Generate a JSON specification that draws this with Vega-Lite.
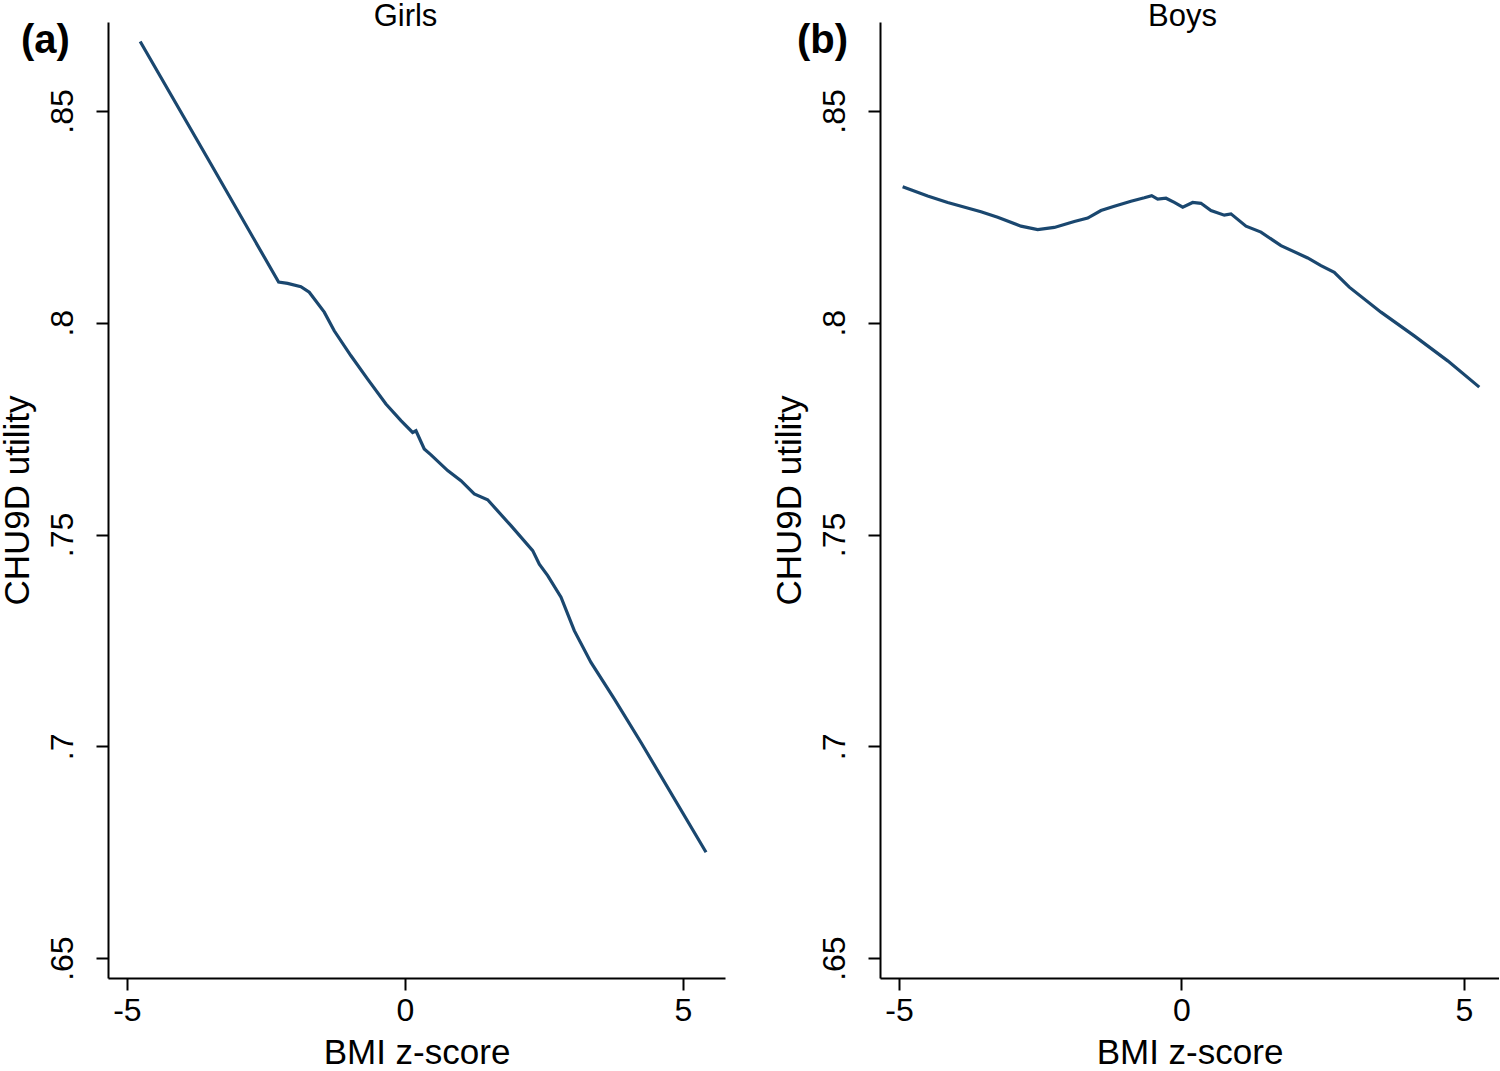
{
  "$schema": "https://vega.github.io/schema/vega-lite/v6.json",
  "background": "white",
  "padding": {"left": 0, "top": 0, "right": 0, "bottom": 0},
  "datasets": {
    "girls": [
      {"z": -4.761, "u": 0.8664},
      {"z": -3.5, "u": 0.8377},
      {"z": -2.272, "u": 0.8096},
      {"z": -2.11, "u": 0.8093},
      {"z": -1.871, "u": 0.8085},
      {"z": -1.721, "u": 0.8072},
      {"z": -1.451, "u": 0.8025},
      {"z": -1.272, "u": 0.7981},
      {"z": -0.971, "u": 0.7922},
      {"z": -0.671, "u": 0.7867},
      {"z": -0.342, "u": 0.7808},
      {"z": -0.072, "u": 0.7769},
      {"z": 0.138, "u": 0.7741},
      {"z": 0.198, "u": 0.7745},
      {"z": 0.347, "u": 0.7702},
      {"z": 0.468, "u": 0.7688},
      {"z": 0.768, "u": 0.7651},
      {"z": 1.007, "u": 0.7627},
      {"z": 1.246, "u": 0.7596},
      {"z": 1.487, "u": 0.7582},
      {"z": 1.906, "u": 0.7521},
      {"z": 2.297, "u": 0.7462},
      {"z": 2.416, "u": 0.743},
      {"z": 2.567, "u": 0.7403},
      {"z": 2.806, "u": 0.7352},
      {"z": 3.045, "u": 0.7273},
      {"z": 3.345, "u": 0.7198},
      {"z": 3.764, "u": 0.7112},
      {"z": 4.245, "u": 0.7009},
      {"z": 5.414, "u": 0.675}
    ],
    "boys": [
      {"z": -4.935, "u": 0.8321},
      {"z": -4.492, "u": 0.8299},
      {"z": -4.138, "u": 0.8284},
      {"z": -3.549, "u": 0.8262},
      {"z": -3.253, "u": 0.8249},
      {"z": -2.841, "u": 0.8228},
      {"z": -2.545, "u": 0.822},
      {"z": -2.251, "u": 0.8225},
      {"z": -1.897, "u": 0.8239},
      {"z": -1.66, "u": 0.8247},
      {"z": -1.425, "u": 0.8265},
      {"z": -1.189, "u": 0.8275},
      {"z": -0.894, "u": 0.8287},
      {"z": -0.658, "u": 0.8295},
      {"z": -0.527, "u": 0.83},
      {"z": -0.421, "u": 0.8292},
      {"z": -0.274, "u": 0.8294},
      {"z": -0.127, "u": 0.8284},
      {"z": 0.022, "u": 0.8273},
      {"z": 0.198, "u": 0.8284},
      {"z": 0.345, "u": 0.8282},
      {"z": 0.522, "u": 0.8265},
      {"z": 0.758, "u": 0.8254},
      {"z": 0.876, "u": 0.8257},
      {"z": 1.142, "u": 0.8228},
      {"z": 1.407, "u": 0.8214},
      {"z": 1.761, "u": 0.8182},
      {"z": 2.234, "u": 0.8153},
      {"z": 2.469, "u": 0.8135},
      {"z": 2.704, "u": 0.8119},
      {"z": 2.97, "u": 0.8084},
      {"z": 3.531, "u": 0.8025},
      {"z": 4.12, "u": 0.7969},
      {"z": 4.712, "u": 0.791},
      {"z": 5.271, "u": 0.7848}
    ]
  },
  "config": {
    "view": {"stroke": null},
    "font": "Liberation Sans",
    "axis": {
      "grid": false,
      "domainColor": "black",
      "domainWidth": 2,
      "tickColor": "black",
      "tickWidth": 2,
      "tickSize": 12,
      "labelFont": "Liberation Sans",
      "labelFontSize": 32,
      "labelColor": "black",
      "titleFont": "Liberation Sans",
      "titleFontSize": 35,
      "titleFontWeight": "normal",
      "titleColor": "black"
    },
    "title": {
      "font": "Liberation Sans",
      "fontSize": 40,
      "fontWeight": "bold",
      "color": "black",
      "anchor": "start",
      "frame": "group",
      "baseline": "alphabetic",
      "offset": 0
    }
  },
  "bounds": "flush",
  "spacing": 155,
  "hconcat": [
    {
      "width": 617,
      "height": 956,
      "title": {"text": "(a)", "dx": -87, "dy": 65},
      "data": {"name": "girls"},
      "layer": [
        {
          "mark": {"type": "line", "color": "#1a476f", "strokeWidth": 3.2},
          "encoding": {
            "x": {"field": "z", "type": "quantitative",
              "scale": {"domain": [-5.34, 5.755], "nice": false, "zero": false},
              "axis": {"values": [-5, 0, 5], "title": "BMI z-score", "labelExpr": "replace(datum.label, '−', '-')", "labelBaseline": "alphabetic", "labelPadding": 30, "titleBaseline": "alphabetic", "titleY": 85}},
            "y": {"field": "u", "type": "quantitative",
              "scale": {"domain": [0.6453, 0.871], "nice": false, "zero": false},
              "axis": {"values": [0.65, 0.7, 0.75, 0.8, 0.85], "title": "CHU9D utility",
                "labelExpr": "replace(format(datum.value, '.2~f'), '0.', '.')",
                "labelAngle": 270, "labelAlign": "center", "labelBaseline": "alphabetic", "labelPadding": 24,
                "titleAngle": 270, "titleBaseline": "alphabetic", "titleX": -80}}
          }
        },
        {
          "mark": {"type": "line", "strokeOpacity": 0},
          "encoding": {
            "x": {"field": "z", "type": "quantitative",
              "axis": {"orient": "top", "title": "Girls", "labels": false, "ticks": false, "domain": false,
                "titleFontSize": 31, "titleBaseline": "alphabetic", "titleY": 3, "titleX": 297}},
            "y": {"field": "u", "type": "quantitative"}
          }
        }
      ],
      "resolve": {"axis": {"x": "independent"}}
    },
    {
      "width": 619,
      "height": 956,
      "title": {"text": "(b)", "dx": -83, "dy": 65},
      "data": {"name": "boys"},
      "layer": [
        {
          "mark": {"type": "line", "color": "#1a476f", "strokeWidth": 3.2},
          "encoding": {
            "x": {"field": "z", "type": "quantitative",
              "scale": {"domain": [-5.336, 5.62], "nice": false, "zero": false},
              "axis": {"values": [-5, 0, 5], "title": "BMI z-score", "labelExpr": "replace(datum.label, '−', '-')", "labelBaseline": "alphabetic", "labelPadding": 30, "titleBaseline": "alphabetic", "titleY": 85}},
            "y": {"field": "u", "type": "quantitative",
              "scale": {"domain": [0.6453, 0.871], "nice": false, "zero": false},
              "axis": {"values": [0.65, 0.7, 0.75, 0.8, 0.85], "title": "CHU9D utility",
                "labelExpr": "replace(format(datum.value, '.2~f'), '0.', '.')",
                "labelAngle": 270, "labelAlign": "center", "labelBaseline": "alphabetic", "labelPadding": 24,
                "titleAngle": 270, "titleBaseline": "alphabetic", "titleX": -80}}
          }
        },
        {
          "mark": {"type": "line", "strokeOpacity": 0},
          "encoding": {
            "x": {"field": "z", "type": "quantitative",
              "axis": {"orient": "top", "title": "Boys", "labels": false, "ticks": false, "domain": false,
                "titleFontSize": 31, "titleBaseline": "alphabetic", "titleY": 3, "titleX": 302}},
            "y": {"field": "u", "type": "quantitative"}
          }
        }
      ],
      "resolve": {"axis": {"x": "independent"}}
    }
  ]
}
